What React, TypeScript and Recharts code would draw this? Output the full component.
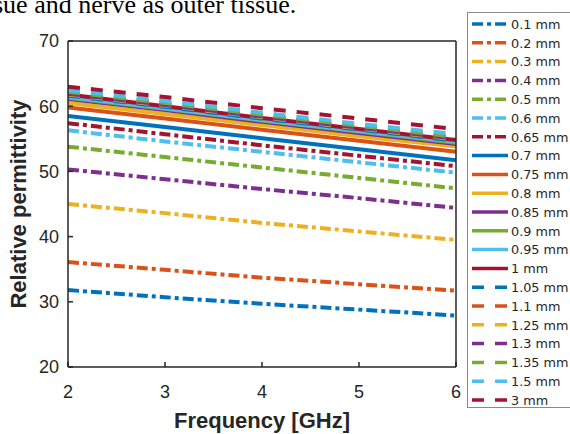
import React from 'react';
import { LineChart, Line, XAxis, YAxis, Label } from 'recharts';

const frequencies = [2, 3, 4, 5, 6];
const xTicks = [2, 3, 4, 5, 6];
const yTicks = [20, 30, 40, 50, 60, 70];

const thicknessLabels = [
  '0.1 mm', '0.2 mm', '0.3 mm', '0.4 mm', '0.5 mm', '0.6 mm', '0.65 mm',
  '0.7 mm', '0.75 mm', '0.8 mm', '0.85 mm', '0.9 mm', '0.95 mm', '1 mm',
  '1.05 mm', '1.1 mm', '1.25 mm', '1.3 mm', '1.35 mm', '1.5 mm', '3 mm',
];

const t010 = [31.8, 30.7, 29.7, 28.8, 27.9];
const t020 = [36.1, 34.9, 33.7, 32.7, 31.7];
const t030 = [45.0, 43.6, 42.1, 40.8, 39.5];
const t040 = [50.3, 48.8, 47.3, 45.9, 44.4];
const t050 = [53.8, 52.2, 50.6, 49.0, 47.4];
const t060 = [56.3, 54.6, 53.0, 51.4, 49.8];
const t065 = [57.4, 55.7, 54.0, 52.4, 50.8];
const t070 = [58.5, 56.8, 55.1, 53.4, 51.7];
const t075 = [59.8, 58.1, 56.4, 54.7, 53.0];
const t080 = [60.5, 58.8, 57.1, 55.4, 53.8];
const t085 = [61.1, 59.4, 57.6, 55.9, 54.2];
const t090 = [61.3, 59.6, 57.8, 56.1, 54.4];
const t095 = [61.4, 59.7, 57.9, 56.2, 54.6];
const t100 = [61.8, 60.0, 58.2, 56.5, 54.8];
const t105 = [61.6, 59.9, 58.1, 56.4, 54.7];
const t110 = [62.0, 60.3, 58.5, 56.8, 55.1];
const t125 = [61.8, 60.1, 58.3, 56.6, 54.9];
const t130 = [61.9, 60.2, 58.4, 56.7, 55.0];
const t135 = [62.2, 60.5, 58.7, 57.0, 55.3];
const t150 = [62.5, 60.8, 59.0, 57.3, 55.7];
const t300 = [63.0, 61.4, 59.7, 58.1, 56.5];

const seriesValues = [
  t010, t020, t030, t040, t050, t060, t065,
  t070, t075, t080, t085, t090, t095, t100,
  t105, t110, t125, t130, t135, t150, t300,
];

const palette = ['#0072BD', '#D95319', '#EDB120', '#7E2F8E', '#77AC30', '#4DBEEE', '#A2142F'];

const data = frequencies.map((f, i) => {
  const row: Record<string, number> = { f };
  seriesValues.forEach((vals, k) => {
    row['s' + k] = vals[i];
  });
  return row;
});

const dashFor = (k: number): string | undefined =>
  k < 7 ? '11 4 4 4' : k < 14 ? undefined : '12 11';

const AXIS = '#262626';
const SANS = "'Liberation Sans', Arial, Helvetica, sans-serif";

const LegendBox = () => {
  const rowH = 18.8;
  return (
    <div
      style={{
        position: 'absolute',
        left: 467,
        top: 12,
        width: 120,
        height: 396,
        border: '1px solid #8a8a8a',
        background: '#fff',
        boxSizing: 'border-box',
      }}
    >
      <svg width={120} height={396} style={{ position: 'absolute', left: -1, top: -1 }}>
        {thicknessLabels.map((name, k) => {
          const cy = 12 + k * rowH;
          return (
            <g key={name}>
              <line
                x1={5}
                x2={41}
                y1={cy}
                y2={cy}
                stroke={palette[k % 7]}
                strokeWidth={3.5}
                strokeDasharray={dashFor(k)}
              />
              <text
                x={44}
                y={cy + 4.7}
                fontFamily="'DejaVu Sans', Verdana, sans-serif"
                fontSize={12.8}
                fill="#262626"
              >
                {name}
              </text>
            </g>
          );
        })}
      </svg>
    </div>
  );
};

export default function App() {
  return (
    <div
      style={{
        position: 'absolute',
        left: 0,
        top: 0,
        width: 570,
        height: 434,
        overflow: 'hidden',
        background: '#fff',
      }}
    >
      <svg width={570} height={40} style={{ position: 'absolute', left: 0, top: 0 }}>
        <text
          x={-7}
          y={13}
          fontFamily="'Liberation Serif', 'Times New Roman', serif"
          fontSize={26}
          fill="#000"
        >
          sue and nerve as outer tissue.
        </text>
      </svg>
      <div style={{ position: 'absolute', left: 0, top: 0 }}>
        <LineChart
          width={570}
          height={434}
          data={data}
          margin={{ top: 40, right: 113, bottom: 0, left: 0 }}
        >
          <XAxis
            xAxisId="b"
            dataKey="f"
            type="number"
            domain={[2, 6]}
            ticks={xTicks}
            interval={0}
            orientation="bottom"
            height={67}
            tickSize={-5}
            tickMargin={23}
            stroke={AXIS}
            strokeWidth={1.5}
            tick={{ fill: AXIS, fontSize: 18, fontFamily: SANS }}
            allowDataOverflow
          >
            <Label
              content={(props: any) => {
                const vb = props.viewBox || {};
                return (
                  <text
                    x={vb.x + vb.width / 2}
                    y={428}
                    textAnchor="middle"
                    fontFamily={SANS}
                    fontWeight="bold"
                    fontSize={22}
                    fill={AXIS}
                  >
                    Frequency [GHz]
                  </text>
                );
              }}
            />
          </XAxis>
          <XAxis
            xAxisId="t"
            dataKey="f"
            type="number"
            domain={[2, 6]}
            ticks={xTicks}
            interval={0}
            orientation="top"
            height={1}
            tickSize={-5}
            tick={false}
            stroke={AXIS}
            strokeWidth={1.5}
            allowDataOverflow
          />
          <YAxis
            yAxisId="l"
            type="number"
            domain={[20, 70]}
            ticks={yTicks}
            interval={0}
            orientation="left"
            width={68}
            tickSize={-5}
            tickMargin={14}
            stroke={AXIS}
            strokeWidth={1.5}
            tick={{ fill: AXIS, fontSize: 18, fontFamily: SANS }}
            allowDataOverflow
          >
            <Label
              content={(props: any) => {
                const vb = props.viewBox || {};
                const cx = 26;
                const cy = vb.y + vb.height / 2;
                return (
                  <text
                    x={cx}
                    y={cy}
                    transform={`rotate(-90, ${cx}, ${cy})`}
                    textAnchor="middle"
                    fontFamily={SANS}
                    fontWeight="bold"
                    fontSize={22}
                    fill={AXIS}
                  >
                    Relative permittivity
                  </text>
                );
              }}
            />
          </YAxis>
          <YAxis
            yAxisId="r"
            type="number"
            domain={[20, 70]}
            ticks={yTicks}
            interval={0}
            orientation="right"
            width={1}
            tickSize={-5}
            tick={false}
            stroke={AXIS}
            strokeWidth={1.5}
            allowDataOverflow
          />
          {seriesValues.map((_, k) => (
            <Line
              key={k}
              xAxisId="b"
              yAxisId="l"
              type="linear"
              dataKey={'s' + k}
              name={thicknessLabels[k]}
              stroke={palette[k % 7]}
              strokeWidth={4}
              strokeDasharray={dashFor(k)}
              dot={false}
              activeDot={false}
              isAnimationActive={false}
            />
          ))}
        </LineChart>
      </div>
      <LegendBox />
    </div>
  );
}
